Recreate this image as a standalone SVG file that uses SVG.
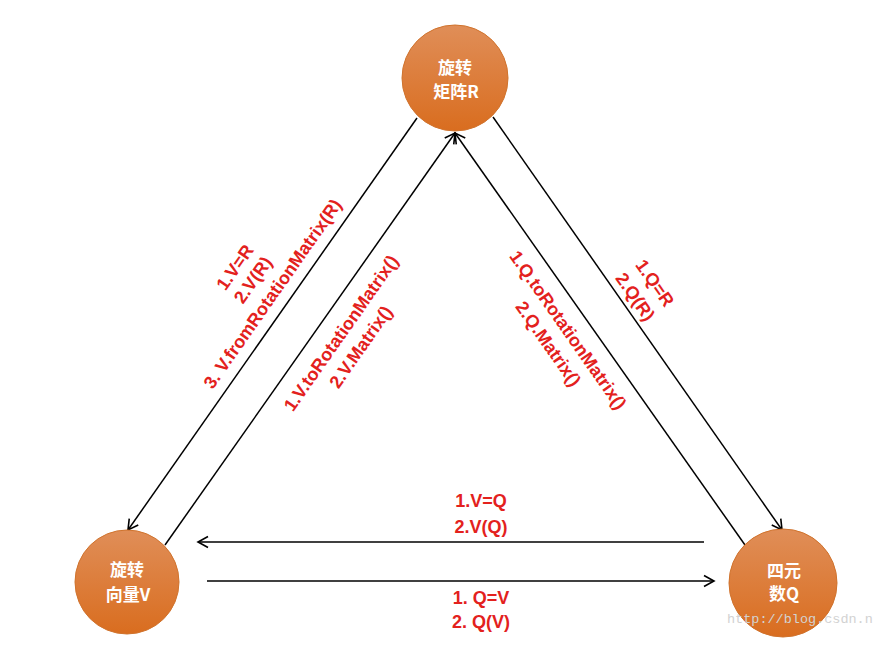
<svg xmlns="http://www.w3.org/2000/svg" width="873" height="667" viewBox="0 0 873 667">
<style>
.node{stroke:#d0732d;stroke-width:1}
.nt{font-family:"Noto Sans CJK SC","Noto Sans CJK JP",sans-serif;font-size:17px;font-weight:bold;fill:#ffffff;text-anchor:middle}
.ln{stroke:#000;stroke-width:1.5;fill:none}
.lb{font-family:"Liberation Sans",Arial,sans-serif;font-size:18px;font-weight:bold;fill:#e3211d;text-anchor:middle}
.wm{font-family:"Liberation Mono","DejaVu Sans Mono",monospace;font-size:13.5px;fill:#d2d2d2}
</style>
<defs>
<linearGradient id="g" x1="0" y1="0" x2="0" y2="1">
<stop offset="0" stop-color="#e08e58"/>
<stop offset="1" stop-color="#d96d1f"/>
</linearGradient>
<marker id="a" markerUnits="userSpaceOnUse" markerWidth="14" markerHeight="14" viewBox="0 0 14 14" refX="12" refY="7" orient="auto">
<path d="M2,1.5 L12,7 L2,12.5" fill="none" stroke="#000" stroke-width="1.6"/>
</marker>
</defs>
<rect width="873" height="667" fill="#ffffff"/>
<g id="connectors">
<line class="ln" x1="417" y1="118" x2="128" y2="530" marker-end="url(#a)"/>
<line class="ln" x1="165" y1="545" x2="455" y2="133" marker-end="url(#a)"/>
<line class="ln" x1="745" y1="545" x2="455" y2="133" marker-end="url(#a)"/>
<line class="ln" x1="493" y1="117" x2="782" y2="530" marker-end="url(#a)"/>
<line class="ln" x1="704" y1="542" x2="198" y2="542" marker-end="url(#a)"/>
<line class="ln" x1="207" y1="581" x2="714" y2="581" marker-end="url(#a)"/>
</g>
<g id="labels">
<g transform="translate(253,280) rotate(-55)">
<text class="lb" x="0" y="-16">1.V=R</text>
<text class="lb" x="0" y="6">2.V(R)</text>
<text class="lb" x="0" y="30">3. V.fromRotationMatrix(R)</text>
</g>
<g transform="translate(351,340) rotate(-55)">
<text class="lb" x="0" y="-6">1.V.toRotationMatrix()</text>
<text class="lb" x="0" y="18">2.V.Matrix()</text>
</g>
<g transform="translate(558,337) rotate(55)">
<text class="lb" x="0" y="-6">1.Q.toRotationMatrix()</text>
<text class="lb" x="0" y="18">2.Q.Matrix()</text>
</g>
<g transform="translate(645,290) rotate(55)">
<text class="lb" x="0" y="-6">1.Q=R</text>
<text class="lb" x="0" y="18">2.Q(R)</text>
</g>
<text class="lb" x="481" y="507">1.V=Q</text>
<text class="lb" x="481" y="533">2.V(Q)</text>
<text class="lb" x="481" y="604">1. Q=V</text>
<text class="lb" x="481" y="628">2. Q(V)</text>
</g>
<g id="nodeR">
<circle class="node" cx="455" cy="78" r="53" fill="url(#g)"/>
<text class="nt" x="455" y="74">旋转</text>
<text class="nt" x="456" y="98">矩阵R</text>
</g>
<g id="nodeV">
<circle class="node" cx="127" cy="582" r="52" fill="url(#g)"/>
<text class="nt" x="127" y="576">旋转</text>
<text class="nt" x="128" y="601">向量V</text>
</g>
<g id="nodeQ">
<circle class="node" cx="783" cy="583" r="54" fill="url(#g)"/>
<text class="nt" x="784" y="577">四元</text>
<text class="nt" x="784" y="600">数Q</text>
</g>
<text class="wm" x="727" y="623">http://blog.csdn.n</text>
</svg>
